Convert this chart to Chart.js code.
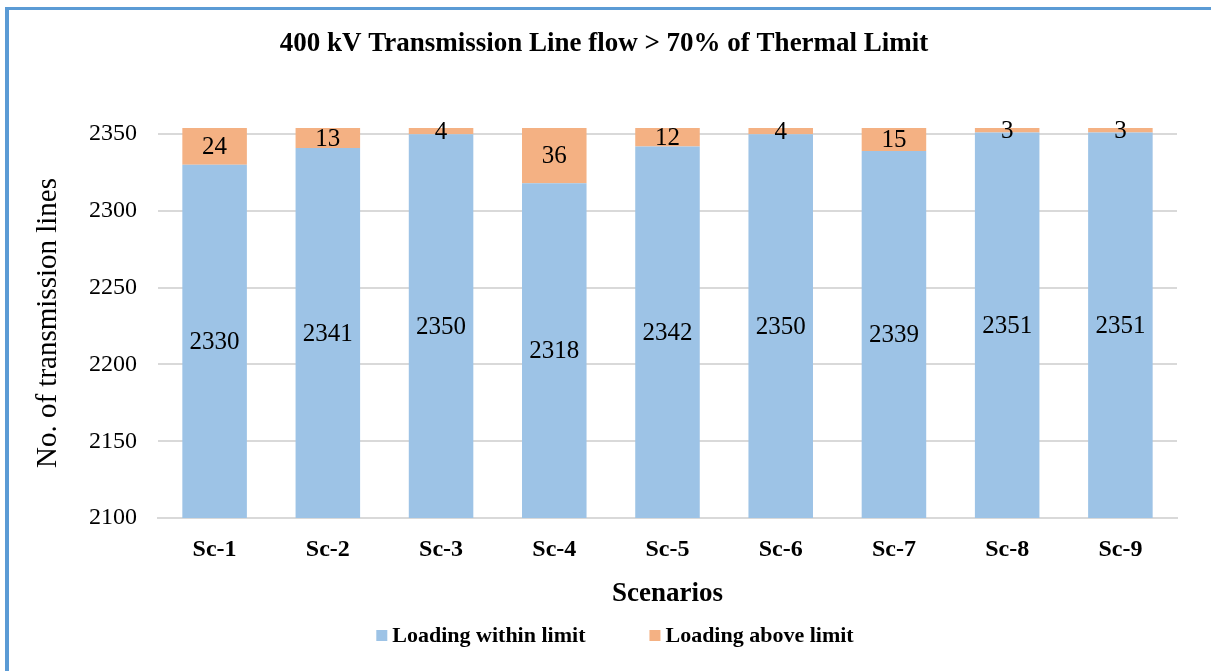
<!DOCTYPE html>
<html lang="en">
<head>
    <meta charset="UTF-8">
    <title>400 kV Transmission Line flow</title>
    <style>
        html, body { margin: 0; padding: 0; background: #fff; overflow: hidden; }
        .wrap { position: relative; width: 1211px; height: 671px; }
        .frame {
            position: absolute; left: 5px; top: 7px; width: 1300px; height: 800px;
            border-top: 3px solid #5b9bd5; border-left: 4px solid #5b9bd5;
        }
        canvas { position: absolute; left: 0; top: 0; }
    </style>
</head>
<body>
<div class="wrap">
    <div class="frame"></div>
    <canvas id="myChart" width="1211" height="671"></canvas>
</div>

<script src="https://cdn.jsdelivr.net/npm/chart.js"></script>
<script>
    // chart data
    var scenarios = ['Sc-1', 'Sc-2', 'Sc-3', 'Sc-4', 'Sc-5', 'Sc-6', 'Sc-7', 'Sc-8', 'Sc-9'];
    var withinLimit = [2330, 2341, 2350, 2318, 2342, 2350, 2339, 2351, 2351];
    var aboveLimit = [24, 13, 4, 36, 12, 4, 15, 3, 3];
    var yTicks = [2100, 2150, 2200, 2250, 2300, 2350];

    var serif = "'Liberation Serif', 'Times New Roman', serif";

    // draws the numbers inside the bars
    var barLabels = {
        id: 'barLabels',
        afterDatasetsDraw: function (chart) {
            var ctx = chart.ctx;
            var area = chart.chartArea;
            ctx.save();
            ctx.font = '25px ' + serif;
            ctx.fillStyle = '#000';
            ctx.textAlign = 'center';
            ctx.textBaseline = 'middle';
            chart.data.datasets.forEach(function (ds, i) {
                var meta = chart.getDatasetMeta(i);
                meta.data.forEach(function (bar, j) {
                    var top = Math.max(bar.y, area.top);
                    var bottom = Math.min(bar.base, area.bottom);
                    ctx.fillText(ds.data[j], bar.x, (top + bottom) / 2 + 1);
                });
            });
            ctx.restore();
        }
    };

    // legend drawn by hand so the items sit wide apart on one row
    var bottomLegend = {
        id: 'bottomLegend',
        afterDraw: function (chart) {
            var ctx = chart.ctx;
            var ds = chart.data.datasets;
            var box = 11, gap = 5, spacing = 64, y = 636;
            ctx.save();
            ctx.font = 'bold 22px ' + serif;
            ctx.textBaseline = 'middle';
            ctx.textAlign = 'left';
            var total = 0;
            ds.forEach(function (d, i) {
                total += box + gap + ctx.measureText(d.label).width + (i > 0 ? spacing : 0);
            });
            var x = 615 - total / 2;
            ds.forEach(function (d) {
                ctx.fillStyle = d.backgroundColor;
                ctx.fillRect(x, y - 6, box, box);
                x += box + gap;
                ctx.fillStyle = '#000';
                ctx.fillText(d.label, x, y);
                x += ctx.measureText(d.label).width + spacing;
            });
            ctx.restore();
        }
    };

    var ctx = document.getElementById('myChart').getContext('2d');
    new Chart(ctx, {
        type: 'bar',
        data: {
            labels: scenarios,
            datasets: [
                { label: 'Loading within limit', data: withinLimit, backgroundColor: '#9dc3e6' },
                { label: 'Loading above limit', data: aboveLimit, backgroundColor: '#f4b183' }
            ]
        },
        options: {
            responsive: false,
            animation: false,
            layout: { padding: { top: 28, left: 31, right: 34, bottom: 53 } },
            datasets: { bar: { categoryPercentage: 1, barPercentage: 0.57 } },
            plugins: {
                title: {
                    display: true,
                    text: '400 kV Transmission Line flow > 70% of Thermal Limit',
                    color: '#000',
                    font: { family: serif, size: 27, weight: 'bold' },
                    padding: { top: 0, bottom: 67.6 }
                },
                legend: { display: false },
                tooltip: { enabled: false }
            },
            scales: {
                x: {
                    stacked: true,
                    grid: { display: false },
                    border: { color: '#d9d9d9', width: 2 },
                    ticks: { color: '#000', padding: 9, font: { family: serif, size: 24, weight: 'bold' } },
                    afterFit: function (scale) { scale.height = 100; },
                    title: {
                        display: true, text: 'Scenarios', color: '#000',
                        font: { family: serif, size: 27, weight: 'bold' },
                        padding: { top: 0, bottom: 7.8 }
                    }
                },
                y: {
                    stacked: true,
                    min: 2100,
                    max: 2354,
                    grid: { color: '#d9d9d9', lineWidth: 2, drawTicks: false },
                    border: { display: false },
                    ticks: {
                        stepSize: 50, color: '#000', padding: 21, font: { family: serif, size: 24 },
                        callback: function (v) { return String(v); }
                    },
                    afterBuildTicks: function (scale) {
                        scale.ticks = yTicks.map(function (v) { return { value: v }; });
                    },
                    afterFit: function (scale) { scale.width = 127; },
                    title: {
                        display: true, text: 'No. of transmission lines', color: '#000',
                        font: { family: serif, size: 29 },
                        padding: { top: 0, bottom: 0 }
                    }
                }
            }
        },
        plugins: [barLabels, bottomLegend]
    });
</script>
</body>
</html>
